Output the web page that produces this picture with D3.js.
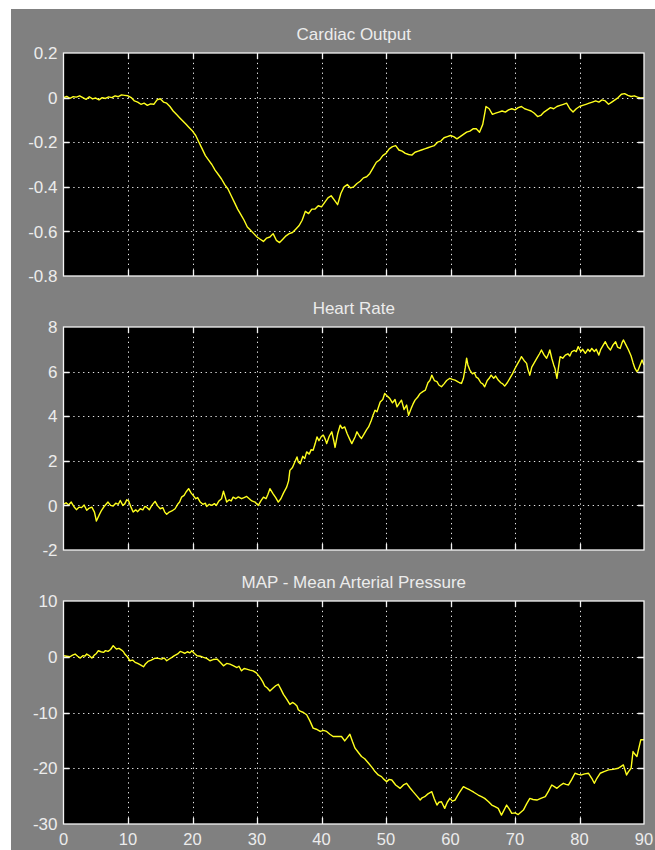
<!DOCTYPE html>
<html>
<head>
<meta charset="utf-8">
<script src="https://cdn.jsdelivr.net/npm/d3@7"></script>
<style>
  html, body { margin: 0; padding: 0; background: #ffffff; }
  svg { display: block; }
  text { font-family: "Liberation Sans", Arial, sans-serif; fill: #ececec; }
</style>
</head>
<body>
<svg id="scope" width="655" height="850"></svg>
<script>
// Simulation time axis (seconds)
const timeTicks = [0, 10, 20, 30, 40, 50, 60, 70, 80, 90];

const panelTitles = ["Cardiac Output", "Heart Rate", "MAP - Mean Arterial Pressure"];

const cardiacTicks = [0.2, 0, -0.2, -0.4, -0.6, -0.8];
const heartRateTicks = [8, 6, 4, 2, 0, -2];
const mapTicks = [10, 0, -10, -20, -30];

// [time, value] samples
const cardiacOutput = [
  [0,0.00],[0.5,0.005],[1,-0.003],[1.5,0.004],[2,0.002],[2.5,0.008],[3,0.0],[3.5,-0.008],[4,0.004],[4.5,-0.006],
  [5,-0.002],[5.5,-0.01],[6,0.0],[6.5,-0.004],[7,0.003],[7.5,0.0],[8,0.008],[8.5,0.004],[9,0.012],[9.5,0.01],
  [10,0.008],[10.5,0.0],[11,-0.015],[11.5,-0.02],[12,-0.03],[12.5,-0.025],[13,-0.035],[13.5,-0.028],[14,-0.03],[14.5,-0.01],
  [15,-0.005],[15.5,-0.02],[16,-0.025],[16.5,-0.04],[17,-0.06],[17.5,-0.075],[18,-0.09],[18.5,-0.105],[19,-0.12],[19.5,-0.135],
  [20,-0.15],[20.5,-0.17],[21,-0.2],[21.5,-0.23],[22,-0.26],[22.5,-0.28],[23,-0.3],[23.5,-0.325],[24,-0.345],[24.5,-0.365],
  [25,-0.39],[25.5,-0.41],[26,-0.44],[26.5,-0.47],[27,-0.5],[27.5,-0.525],[28,-0.55],[28.5,-0.58],[29,-0.595],[29.5,-0.61],
  [30,-0.625],[30.5,-0.635],[31,-0.645],[31.5,-0.63],[32,-0.625],[32.5,-0.61],[33,-0.64],[33.5,-0.65],[34,-0.635],[34.5,-0.62],
  [35,-0.61],[35.5,-0.605],[36,-0.59],[36.5,-0.575],[37,-0.55],[37.5,-0.51],[38,-0.52],[38.5,-0.5],[39,-0.5],[39.5,-0.485],
  [40,-0.49],[40.5,-0.47],[41,-0.45],[41.5,-0.44],[42,-0.46],[42.5,-0.48],[43,-0.43],[43.5,-0.4],[44,-0.39],[44.5,-0.405],
  [45,-0.4],[45.5,-0.385],[46,-0.375],[46.5,-0.36],[47,-0.355],[47.5,-0.34],[48,-0.315],[48.5,-0.29],[49,-0.28],[49.5,-0.26],
  [50,-0.25],[50.5,-0.23],[51,-0.22],[51.5,-0.215],[52,-0.235],[52.5,-0.24],[53,-0.25],[53.5,-0.255],[54,-0.258],[54.5,-0.245],
  [55,-0.24],[55.5,-0.235],[56,-0.23],[56.5,-0.225],[57,-0.22],[57.5,-0.215],[58,-0.2],[58.5,-0.195],[59,-0.18],[59.5,-0.175],
  [60,-0.17],[60.5,-0.175],[61,-0.185],[61.5,-0.175],[62,-0.165],[62.5,-0.155],[63,-0.15],[63.5,-0.14],[64,-0.14],[64.5,-0.155],
  [65,-0.12],[65.5,-0.04],[66,-0.05],[66.5,-0.075],[67,-0.07],[67.5,-0.065],[68,-0.06],[68.5,-0.065],[69,-0.055],[69.5,-0.05],
  [70,-0.055],[70.5,-0.045],[71,-0.04],[71.5,-0.05],[72,-0.055],[72.5,-0.06],[73,-0.07],[73.5,-0.085],[74,-0.08],[74.5,-0.065],
  [75,-0.055],[75.5,-0.045],[76,-0.05],[76.5,-0.04],[77,-0.035],[77.5,-0.03],[78,-0.025],[78.5,-0.05],[79,-0.065],[79.5,-0.05],
  [80,-0.04],[80.5,-0.035],[81,-0.03],[81.5,-0.025],[82,-0.02],[82.5,-0.015],[83,-0.02],[83.5,-0.01],[84,-0.015],[84.5,-0.03],
  [85,-0.02],[85.5,-0.01],[86,0.0],[86.5,0.015],[87,0.018],[87.5,0.01],[88,0.005],[88.5,0.008],[89,0.002],[89.5,-0.002],[90,0.0]
];

const heartRate = [
  [0,0.05],[0.4,0.12],[0.8,0.02],[1.2,0.15],[1.6,-0.05],[2,-0.19],[2.4,-0.08],[2.8,-0.1],[3.2,0.02],[3.6,-0.22],
  [4,-0.12],[4.4,-0.08],[4.8,-0.3],[5.1,-0.7],[5.5,-0.45],[5.9,-0.22],[6.3,-0.05],[6.9,0.15],[7.3,0.0],[7.7,-0.03],
  [8.1,0.1],[8.5,0.05],[8.8,0.22],[9.2,0.0],[9.5,0.07],[9.8,0.25],[10.1,0.2],[10.5,-0.1],[10.8,-0.3],[11.2,-0.2],
  [11.5,-0.28],[11.9,-0.15],[12.3,-0.2],[12.6,-0.05],[12.9,-0.08],[13.3,-0.2],[13.7,0.0],[14.2,0.18],[14.6,-0.02],[15,-0.15],
  [15.4,-0.1],[15.7,-0.3],[16,-0.4],[16.4,-0.3],[16.8,-0.25],[17.3,-0.15],[17.7,0.05],[18,0.15],[18.3,0.37],[18.7,0.45],
  [19,0.6],[19.4,0.75],[19.8,0.55],[20.1,0.45],[20.5,0.3],[20.8,0.35],[21.2,0.15],[21.6,0.05],[22,0.1],[22.2,-0.05],
  [22.6,0.05],[23,0.0],[23.4,0.08],[23.7,0.0],[24.1,0.2],[24.5,0.3],[24.8,0.64],[25.1,0.35],[25.3,0.15],[25.7,0.25],
  [26,0.2],[26.3,0.37],[26.7,0.3],[27.1,0.38],[27.6,0.3],[28,0.35],[28.4,0.4],[28.8,0.3],[29.2,0.2],[29.7,0.15],
  [30,0.05],[30.2,0.0],[30.6,0.2],[31,0.37],[31.4,0.3],[31.7,0.5],[32,0.75],[32.5,0.52],[32.9,0.35],[33.3,0.15],
  [33.7,0.3],[34.1,0.55],[34.6,0.82],[34.9,1.1],[35.1,1.57],[35.5,1.7],[35.8,1.9],[36.2,2.17],[36.4,1.95],[36.7,1.87],
  [37.1,2.2],[37.4,2.1],[37.7,2.4],[38.1,2.3],[38.4,2.5],[38.7,2.47],[39,2.75],[39.3,3.07],[39.6,2.9],[40,3.1],
  [40.3,3.15],[40.6,2.95],[40.8,2.77],[41.2,3.1],[41.6,3.3],[41.9,2.9],[42.1,2.6],[42.5,3.2],[42.9,3.6],[43.2,3.45],
  [43.6,3.52],[44,3.2],[44.4,2.95],[44.7,2.77],[45.2,3.07],[45.5,3.3],[45.9,3.1],[46.2,3.0],[46.6,3.2],[47,3.4],
  [47.3,3.52],[47.7,3.8],[48,4.05],[48.3,4.27],[48.6,4.2],[49.1,4.64],[49.5,4.75],[49.8,5.02],[50.2,4.9],[50.6,4.79],
  [51,4.6],[51.4,4.75],[51.7,4.42],[52.1,4.6],[52.4,4.72],[52.8,4.3],[53.2,4.5],[53.5,4.04],[53.9,4.35],[54.2,4.55],
  [54.5,4.72],[54.9,4.85],[55.3,5.02],[55.7,5.1],[56.1,5.17],[56.5,5.5],[56.8,5.6],[57.1,5.84],[57.5,5.6],[57.9,5.55],
  [58.2,5.4],[58.6,5.32],[59,5.45],[59.4,5.6],[59.9,5.7],[60.3,5.65],[60.7,5.62],[61.1,5.55],[61.4,5.5],[61.7,5.47],
  [62,5.7],[62.3,6.2],[62.5,6.6],[62.7,6.3],[63,6.07],[63.4,5.9],[63.7,5.95],[64,5.75],[64.3,5.7],[64.7,5.5],
  [65,5.45],[65.3,5.32],[65.7,5.6],[66,5.7],[66.3,5.84],[66.7,5.7],[67,5.8],[67.4,5.62],[67.8,5.5],[68.1,5.45],
  [68.4,5.35],[68.8,5.5],[69.2,5.7],[69.6,5.9],[70,6.14],[70.3,6.3],[70.7,6.5],[71,6.67],[71.4,6.5],[71.8,6.37],
  [72,6.1],[72.3,5.84],[72.6,6.2],[73,6.4],[73.4,6.6],[73.8,6.8],[74.1,6.97],[74.5,6.75],[74.9,6.6],[75.2,6.8],
  [75.4,6.97],[75.7,6.6],[76,6.3],[76.2,6.14],[76.5,5.7],[76.8,6.3],[77,6.67],[77.4,6.6],[77.8,6.74],[78.2,6.8],
  [78.5,6.7],[78.8,6.89],[79.2,6.95],[79.5,6.9],[79.8,7.12],[80.2,6.9],[80.5,7.0],[80.9,6.82],[81.3,7.0],[81.6,6.9],
  [81.9,7.04],[82.3,6.9],[82.6,7.0],[83,6.74],[83.3,7.0],[83.7,7.2],[84,7.34],[84.4,7.1],[84.8,6.97],[85.2,7.2],
  [85.6,7.34],[85.9,7.1],[86.3,7.04],[86.6,7.3],[86.8,7.42],[87.2,7.2],[87.6,6.97],[88,6.7],[88.3,6.4],[88.6,6.14],
  [88.9,6.0],[89.1,6.07],[89.4,6.3],[89.7,6.52],[90,6.3]
];

const meanArterialPressure = [
  [0,0.18],[0.5,0.1],[1,0],[1.4,0.3],[1.8,0.48],[2.2,0.1],[2.6,-0.24],[3,0.2],[3.3,0.1],[3.6,0.48],
  [4,0.2],[4.4,-0.24],[4.8,0.3],[5.1,0.6],[5.4,1.08],[5.8,0.9],[6.2,0.78],[6.5,1.1],[6.9,0.96],[7.3,1.3],
  [7.7,1.99],[8,1.6],[8.2,1.39],[8.6,1.5],[9,1.2],[9.3,0.9],[9.5,0.48],[9.9,0.0],[10.3,-0.72],[10.7,-0.6],
  [11.1,-1.0],[11.5,-1.2],[12,-1.5],[12.4,-1.8],[12.7,-1.3],[13.1,-0.84],[13.6,-0.6],[14.2,-0.24],[14.7,-0.3],[15.2,-0.42],
  [15.6,-0.2],[16,-0.72],[16.4,-0.4],[16.8,-0.12],[17.2,0.2],[17.7,0.5],[18.1,0.96],[18.5,0.8],[18.8,0.6],[19.2,0.9],
  [19.6,0.7],[19.9,1.08],[20.3,0.6],[20.7,0.18],[21.2,0.1],[21.7,-0.12],[22.2,-0.3],[22.7,-0.72],[23.2,-0.5],[23.8,-0.42],
  [24.3,-1.0],[24.8,-1.63],[25.3,-1.2],[25.8,-1.33],[26.3,-1.6],[26.9,-1.93],[27.2,-1.7],[27.6,-2.53],[28,-2.1],[28.4,-2.23],
  [28.9,-2.4],[29.4,-2.53],[29.9,-2.9],[30.5,-3.74],[30.9,-4.5],[31.2,-5.24],[31.6,-5.6],[32,-6.15],[32.5,-5.6],[32.9,-5.2],
  [33.3,-4.94],[33.7,-5.8],[34.1,-6.75],[34.6,-7.6],[35.1,-8.55],[35.5,-8.2],[35.8,-8.4],[36.2,-8.85],[36.4,-9.5],[36.7,-9.76],
  [37.2,-10.0],[37.7,-10.4],[38.2,-11.5],[38.7,-12.8],[39.2,-13.0],[39.8,-13.4],[40.3,-13.2],[40.8,-13.4],[41.3,-13.9],[41.8,-14.3],
  [42.4,-14.3],[43.1,-14.3],[43.6,-15.1],[44,-14.5],[44.4,-13.9],[44.8,-15.2],[45.2,-16.4],[45.6,-17.0],[46.2,-17.9],[46.7,-18.3],
  [47.3,-19.1],[47.8,-19.8],[48.3,-20.6],[48.8,-21.2],[49.3,-21.5],[49.7,-22.0],[50.1,-22.4],[50.5,-22.0],[50.9,-22.1],[51.5,-23.0],
  [52.2,-23.6],[52.7,-23.0],[53.2,-22.7],[53.7,-23.5],[54.2,-24.2],[54.8,-25.0],[55.3,-25.7],[55.6,-25.3],[56,-25.1],[56.5,-24.6],
  [57.1,-24.2],[57.5,-25.5],[57.9,-26.6],[58.2,-26.1],[58.6,-26.0],[59.1,-27.2],[59.5,-26.1],[59.9,-25.4],[60.3,-25.9],[60.7,-25.7],
  [61.3,-24.5],[62,-23.3],[62.5,-23.6],[63,-23.9],[63.6,-24.3],[64.3,-24.8],[64.8,-25.1],[65.3,-25.4],[65.9,-26.0],[66.4,-26.6],
  [66.9,-26.9],[67.4,-27.2],[67.9,-28.4],[68.3,-27.5],[68.7,-26.6],[69.1,-27.3],[69.5,-28.1],[70,-28.0],[70.5,-28.3],[70.9,-27.9],
  [71.3,-27.5],[71.8,-26.4],[72.3,-25.4],[72.8,-25.6],[73.4,-25.7],[74,-25.4],[74.7,-25.1],[75.2,-24.1],[75.7,-23.0],[76.1,-23.3],
  [76.5,-23.6],[77,-23.1],[77.5,-22.7],[77.9,-22.9],[78.3,-23.0],[78.8,-22.0],[79.3,-20.9],[79.8,-21.1],[80.3,-21.2],[80.8,-21.0],
  [81.4,-20.9],[81.9,-21.8],[82.3,-22.7],[82.7,-21.8],[83.2,-20.9],[83.8,-20.6],[84.5,-20.3],[85.2,-20.2],[86,-20.0],[86.4,-19.7],
  [86.8,-19.4],[87.3,-21.2],[87.6,-20.6],[88,-20.0],[88.3,-17.0],[88.6,-17.5],[88.9,-17.9],[89.2,-16.4],[89.5,-14.9],[90,-14.9]
];

// Panel definitions built from the arrays above
const panels = [
  { title: panelTitles[0], data: cardiacOutput, ticks: cardiacTicks },
  { title: panelTitles[1], data: heartRate, ticks: heartRateTicks },
  { title: panelTitles[2], data: meanArterialPressure, ticks: mapTicks }
];

const W = 655, H = 850;
const frameLeft = 11, frameTop = 9;
const plotLeft = 63.5, plotRight = 644;
const firstTop = 53, panelHeight = 223, panelStep = 274;
const tickLen = 6;
const lineColor = "#ffff1e";
const gridColor = "#e8e8e8";

const svg = d3.select("#scope");

// Figure background
svg.append("rect")
  .attr("x", frameLeft).attr("y", frameTop)
  .attr("width", W - frameLeft).attr("height", H - frameTop)
  .attr("fill", "#808080");

const x = d3.scaleLinear()
  .domain([timeTicks[0], timeTicks[timeTicks.length - 1]])
  .range([plotLeft, plotRight]);

panels.forEach((p, i) => {
  const top = firstTop + i * panelStep;
  const bottom = top + panelHeight;
  const y = d3.scaleLinear().domain(d3.extent(p.ticks)).range([bottom, top]);
  const g = svg.append("g");

  // Black plotting area
  g.append("rect")
    .attr("x", plotLeft).attr("y", top)
    .attr("width", plotRight - plotLeft).attr("height", panelHeight)
    .attr("fill", "#000000");

  // Dotted grid
  const inner = p.ticks.filter(v => y(v) > top + 0.5 && y(v) < bottom - 0.5);
  g.selectAll(".hgrid").data(inner).join("line")
    .attr("x1", plotLeft).attr("x2", plotRight)
    .attr("y1", d => Math.round(y(d)) + 0.5).attr("y2", d => Math.round(y(d)) + 0.5)
    .attr("stroke", gridColor).attr("stroke-width", 1)
    .attr("stroke-dasharray", "1.3,3.6");
  const innerX = timeTicks.slice(1, -1);
  g.selectAll(".vgrid").data(innerX).join("line")
    .attr("x1", d => Math.round(x(d)) + 0.5).attr("x2", d => Math.round(x(d)) + 0.5)
    .attr("y1", top).attr("y2", bottom)
    .attr("stroke", gridColor).attr("stroke-width", 1)
    .attr("stroke-dasharray", "1.3,3.6");

  // Signal trace
  const line = d3.line().x(d => x(d[0])).y(d => y(d[1]));
  g.append("path")
    .datum(p.data)
    .attr("d", line)
    .attr("fill", "none")
    .attr("stroke", lineColor)
    .attr("stroke-width", 1.4)
    .attr("stroke-linejoin", "round");

  // Axis box
  g.append("rect")
    .attr("x", plotLeft).attr("y", top)
    .attr("width", plotRight - plotLeft).attr("height", panelHeight)
    .attr("fill", "none").attr("stroke", "#f4f4f4").attr("stroke-width", 1.3);

  // Inward tick marks
  g.selectAll(".xt").data(innerX).join("path")
    .attr("d", d => {
      const xx = Math.round(x(d)) + 0.5;
      return `M${xx},${top}v${tickLen}M${xx},${bottom}v${-tickLen}`;
    })
    .attr("stroke", "#f4f4f4").attr("stroke-width", 1.3);
  g.selectAll(".yt").data(inner).join("path")
    .attr("d", d => {
      const yy = Math.round(y(d)) + 0.5;
      return `M${plotLeft},${yy}h${tickLen}M${plotRight},${yy}h${-tickLen}`;
    })
    .attr("stroke", "#f4f4f4").attr("stroke-width", 1.3);

  // Y tick labels
  g.selectAll(".yl").data(p.ticks).join("text")
    .attr("x", plotLeft - 6)
    .attr("y", d => y(d))
    .attr("dy", "0.36em")
    .attr("text-anchor", "end")
    .attr("font-size", 17)
    .text(d => String(d));

  // Title
  g.append("text")
    .attr("x", (plotLeft + plotRight) / 2)
    .attr("y", top - 13)
    .attr("text-anchor", "middle")
    .attr("font-size", 17)
    .text(p.title);

  // X tick labels on the lowest panel only
  if (i === panels.length - 1) {
    g.selectAll(".xl").data(timeTicks).join("text")
      .attr("x", d => Math.min(x(d), W - 10))
      .attr("y", bottom + 21)
      .attr("text-anchor", "middle")
      .attr("font-size", 16.5)
      .text(d => String(d));
  }
});
</script>
</body>
</html>
